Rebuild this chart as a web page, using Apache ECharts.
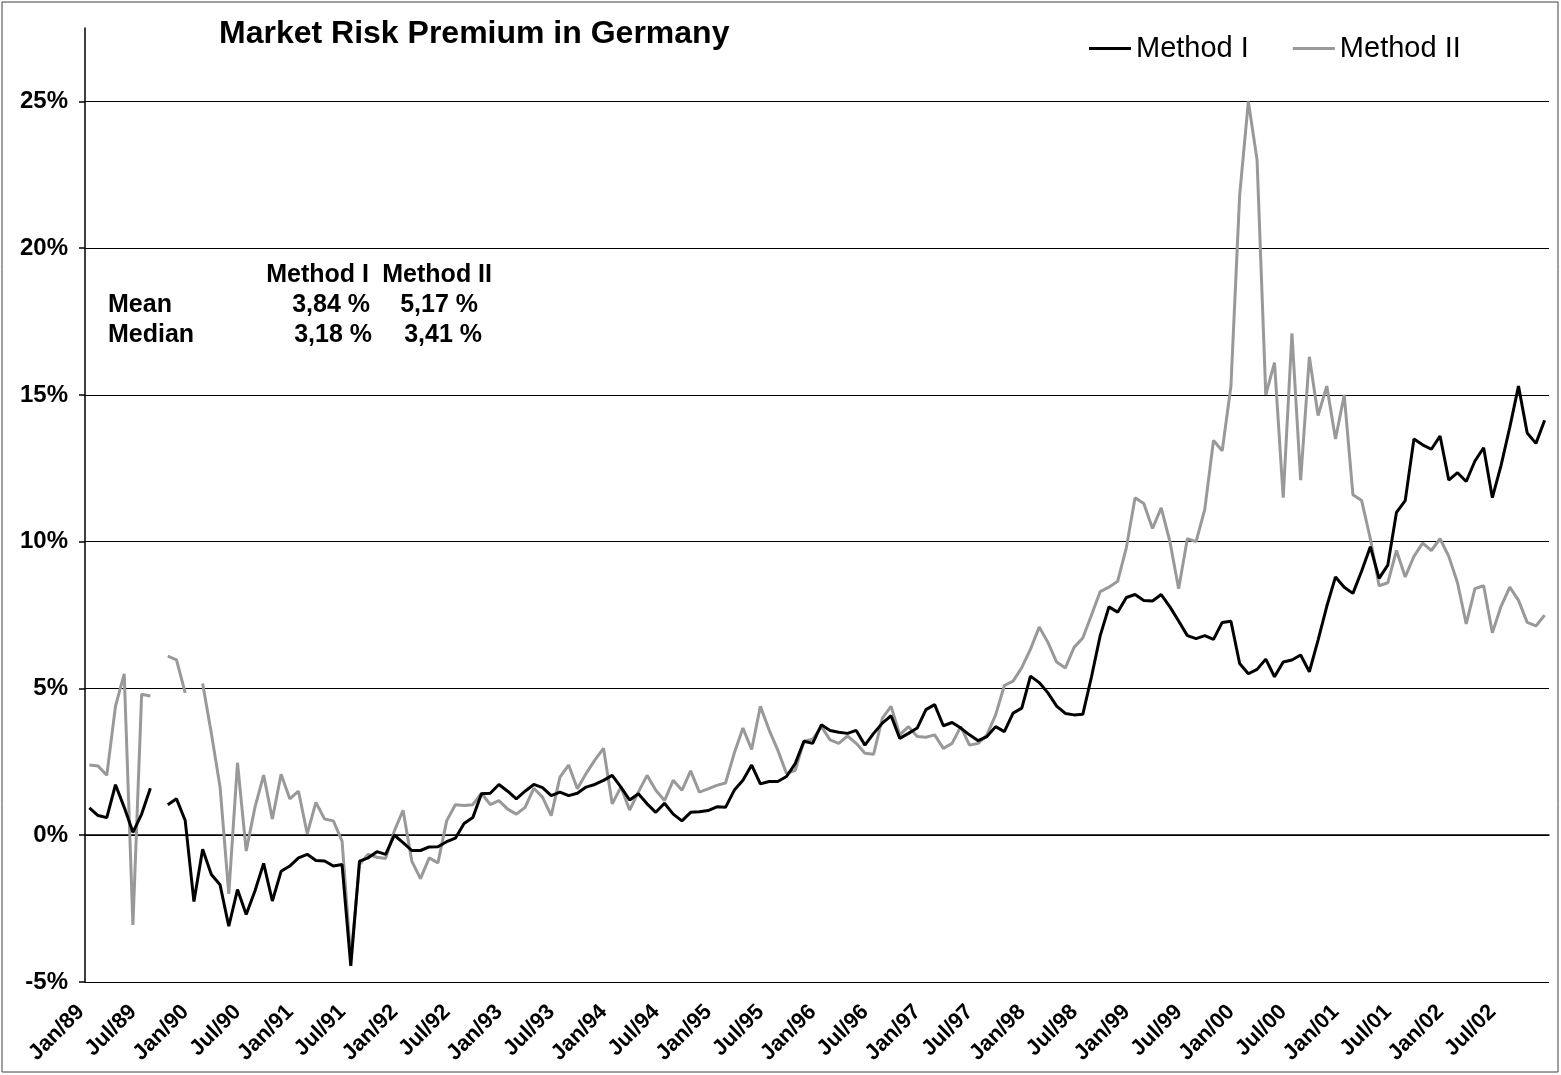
<!DOCTYPE html>
<html>
<head>
<meta charset="utf-8">
<script src="https://cdn.jsdelivr.net/npm/echarts@6/dist/echarts.min.js"></script>
<style>
  html, body { margin: 0; padding: 0; background: #fff; }
  #chart { width: 1561px; height: 1075px; }
</style>
</head>
<body>
<div id="chart"></div>
<script>
// monthly categories Jan/89 .. Dec/02
const years = ['89', '90', '91', '92', '93', '94', '95', '96', '97', '98', '99', '00', '01', '02'];
const monthNames = ['Jan', 'Feb', 'Mar', 'Apr', 'May', 'Jun', 'Jul', 'Aug', 'Sep', 'Oct', 'Nov', 'Dec'];
const months = [];
years.forEach(y => monthNames.forEach(m => months.push(m + '/' + y)));

// market risk premium in %, one value per month
const method1 = [
    0.93, 0.67, 0.6, 1.72, 0.95, 0.1, 0.72, 1.6, null, 1.04, 1.24, 0.5,
    -2.26, -0.48, -1.34, -1.69, -3.1, -1.85, -2.7, -1.9, -0.96, -2.24, -1.23, -1.05,
    -0.77, -0.65, -0.86, -0.88, -1.05, -1.0, -4.45, -0.88, -0.77, -0.56, -0.65, 0.0,
    -0.25, -0.52, -0.52, -0.4, -0.39, -0.22, -0.1, 0.4, 0.6, 1.41, 1.43, 1.73,
    1.5, 1.24, 1.5, 1.73, 1.62, 1.35, 1.47, 1.35, 1.43, 1.64, 1.73, 1.87,
    2.04, 1.64, 1.2, 1.41, 1.07, 0.78, 1.09, 0.72, 0.49, 0.78, 0.8, 0.84,
    0.97, 0.95, 1.53, 1.87, 2.39, 1.75, 1.83, 1.83, 2.0, 2.44, 3.2, 3.13,
    3.76, 3.57, 3.51, 3.47, 3.57, 3.07, 3.47, 3.82, 4.07, 3.3, 3.47, 3.65,
    4.28, 4.45, 3.73, 3.84, 3.65, 3.42, 3.22, 3.36, 3.7, 3.53, 4.16, 4.33,
    5.42, 5.2, 4.85, 4.4, 4.15, 4.1, 4.12, 5.4, 6.8, 7.78, 7.6, 8.1,
    8.2, 8.0, 7.98, 8.2, 7.78, 7.3, 6.8, 6.7, 6.8, 6.67, 7.25, 7.29,
    5.85, 5.5, 5.65, 6.0, 5.4, 5.9, 5.97, 6.14, 5.57, 6.65, 7.8, 8.8,
    8.45, 8.24, 9.0, 9.83, 8.75, 9.2, 11.0, 11.4, 13.5, 13.3, 13.15, 13.6,
    12.1, 12.35, 12.05, 12.75, 13.2, 11.5, 12.6, 13.9, 15.3, 13.7, 13.35, 14.14
];

const method2 = [
    2.39, 2.36, 2.04, 4.4, 5.5, -3.06, 4.8, 4.74, null, 6.1, 5.97, 4.85,
    null, 5.17, 3.47, 1.64, -2.0, 2.47, -0.54, 0.95, 2.05, 0.55, 2.08, 1.24,
    1.5, 0.05, 1.12, 0.55, 0.49, -0.2, -4.2, -1.0, -0.65, -0.75, -0.79, 0.15,
    0.85, -0.88, -1.48, -0.77, -0.94, 0.49, 1.04, 1.01, 1.04, 1.43, 1.04, 1.18,
    0.89, 0.72, 0.95, 1.6, 1.3, 0.67, 1.98, 2.39, 1.58, 2.1, 2.56, 2.96,
    1.07, 1.64, 0.86, 1.47, 2.04, 1.53, 1.18, 1.87, 1.53, 2.19, 1.47, 1.58,
    1.7, 1.78, 2.79, 3.65, 2.92, 4.39, 3.59, 2.9, 2.1, 2.21, 3.2, 3.27,
    3.7, 3.25, 3.13, 3.38, 3.13, 2.79, 2.76, 3.99, 4.39, 3.42, 3.7, 3.36,
    3.34, 3.42, 2.96, 3.13, 3.7, 3.07, 3.13, 3.42, 4.1, 5.1, 5.25, 5.71,
    6.34, 7.09, 6.57, 5.9, 5.7, 6.4, 6.72, 7.5, 8.3, 8.45, 8.65, 9.8,
    11.5, 11.3, 10.45, 11.15, 10.0, 8.4, 10.1, 10.0, 11.1, 13.45, 13.1, 15.3,
    21.8, 25.0, 23.0, 15.0, 16.1, 11.5, 17.1, 12.1, 16.3, 14.3, 15.3, 13.5,
    15.0, 11.6, 11.4, 10.1, 8.5, 8.6, 9.7, 8.8, 9.5, 9.95, 9.7, 10.1,
    9.5, 8.6, 7.2, 8.4, 8.5, 6.9, 7.8, 8.45, 8.0, 7.25, 7.13, 7.5
];

// summary box
const statHeaders = ['Method I', 'Method II'];
const statRows = ['Mean', 'Median'];
const statValues = [['3,84 %', '5,17 %'], ['3,18 %', '3,41 %']];

const font = '"Liberation Sans", Arial, sans-serif';
const boldFont = 'bold 25px ' + font;

let graphics = [
    {
        type: 'rect',
        shape: { x: 2, y: 2, width: 1556, height: 1070 },
        style: { fill: 'none', stroke: '#404040', lineWidth: 1 },
        silent: true
    },
    { type: 'text', x: 369, y: 275, style: { text: statHeaders[0], font: boldFont, align: 'right', verticalAlign: 'middle', fill: '#000' } },
    { type: 'text', x: 492, y: 275, style: { text: statHeaders[1], font: boldFont, align: 'right', verticalAlign: 'middle', fill: '#000' } },
    { type: 'text', x: 108, y: 305, style: { text: statRows[0], font: boldFont, align: 'left', verticalAlign: 'middle', fill: '#000' } },
    { type: 'text', x: 108, y: 335, style: { text: statRows[1], font: boldFont, align: 'left', verticalAlign: 'middle', fill: '#000' } },
    { type: 'text', x: 370, y: 305, style: { text: statValues[0][0], font: boldFont, align: 'right', verticalAlign: 'middle', fill: '#000' } },
    { type: 'text', x: 478, y: 305, style: { text: statValues[0][1], font: boldFont, align: 'right', verticalAlign: 'middle', fill: '#000' } },
    { type: 'text', x: 372, y: 335, style: { text: statValues[1][0], font: boldFont, align: 'right', verticalAlign: 'middle', fill: '#000' } },
    { type: 'text', x: 482, y: 335, style: { text: statValues[1][1], font: boldFont, align: 'right', verticalAlign: 'middle', fill: '#000' } }
];

let option = {
    animation: false,
    backgroundColor: '#fff',
    title: {
        text: 'Market Risk Premium in Germany',
        left: 214,
        top: 13,
        textStyle: {
            fontFamily: font,
            fontSize: 32,
            fontWeight: 'bold',
            color: '#000'
        }
    },
    legend: {
        data: ['Method I', 'Method II'],
        left: 1084,
        top: 29,
        icon: 'rect',
        itemWidth: 42,
        itemHeight: 3,
        itemGap: 44,
        textStyle: {
            fontFamily: font,
            fontSize: 29,
            color: '#000'
        }
    },
    grid: {
        left: 85,
        right: 12,
        top: 28,
        bottom: 93
    },
    xAxis: {
        type: 'category',
        boundaryGap: true,
        data: months,
        axisLine: {
            lineStyle: { color: '#000', width: 1.5 }
        },
        axisTick: {
            interval: 5,
            length: 7,
            lineStyle: { color: '#000', width: 1.5 }
        },
        axisLabel: {
            interval: 5,
            rotate: 45,
            margin: 18,
            padding: [0, 12, 0, 0],
            fontFamily: font,
            fontSize: 22,
            fontWeight: 'bold',
            color: '#000'
        },
        splitLine: { show: false }
    },
    yAxis: {
        type: 'value',
        min: -5,
        max: 27.5,
        interval: 5,
        axisLine: {
            show: true,
            lineStyle: { color: '#000', width: 1.5 }
        },
        axisTick: {
            show: true,
            length: 6,
            lineStyle: { color: '#000', width: 1.5 }
        },
        axisLabel: {
            showMaxLabel: false,
            margin: 17,
            fontFamily: font,
            fontSize: 24,
            fontWeight: 'bold',
            color: '#000',
            formatter: v => (v % 5 === 0 ? v + '%' : '')
        },
        splitLine: {
            show: true,
            showMaxLine: false,
            lineStyle: { color: '#000', width: 1.2 }
        }
    },
    series: [
        {
            name: 'Method I',
            type: 'line',
            data: method1,
            symbol: 'none',
            connectNulls: false,
            lineStyle: { color: '#000', width: 3 },
            itemStyle: { color: '#000' },
            z: 3
        },
        {
            name: 'Method II',
            type: 'line',
            data: method2,
            symbol: 'none',
            connectNulls: false,
            lineStyle: { color: '#999', width: 3 },
            itemStyle: { color: '#999' },
            z: 2
        }
    ],
    graphic: graphics
};

let myChart = echarts.init(document.getElementById('chart'));
myChart.setOption(option);
</script>
</body>
</html>
